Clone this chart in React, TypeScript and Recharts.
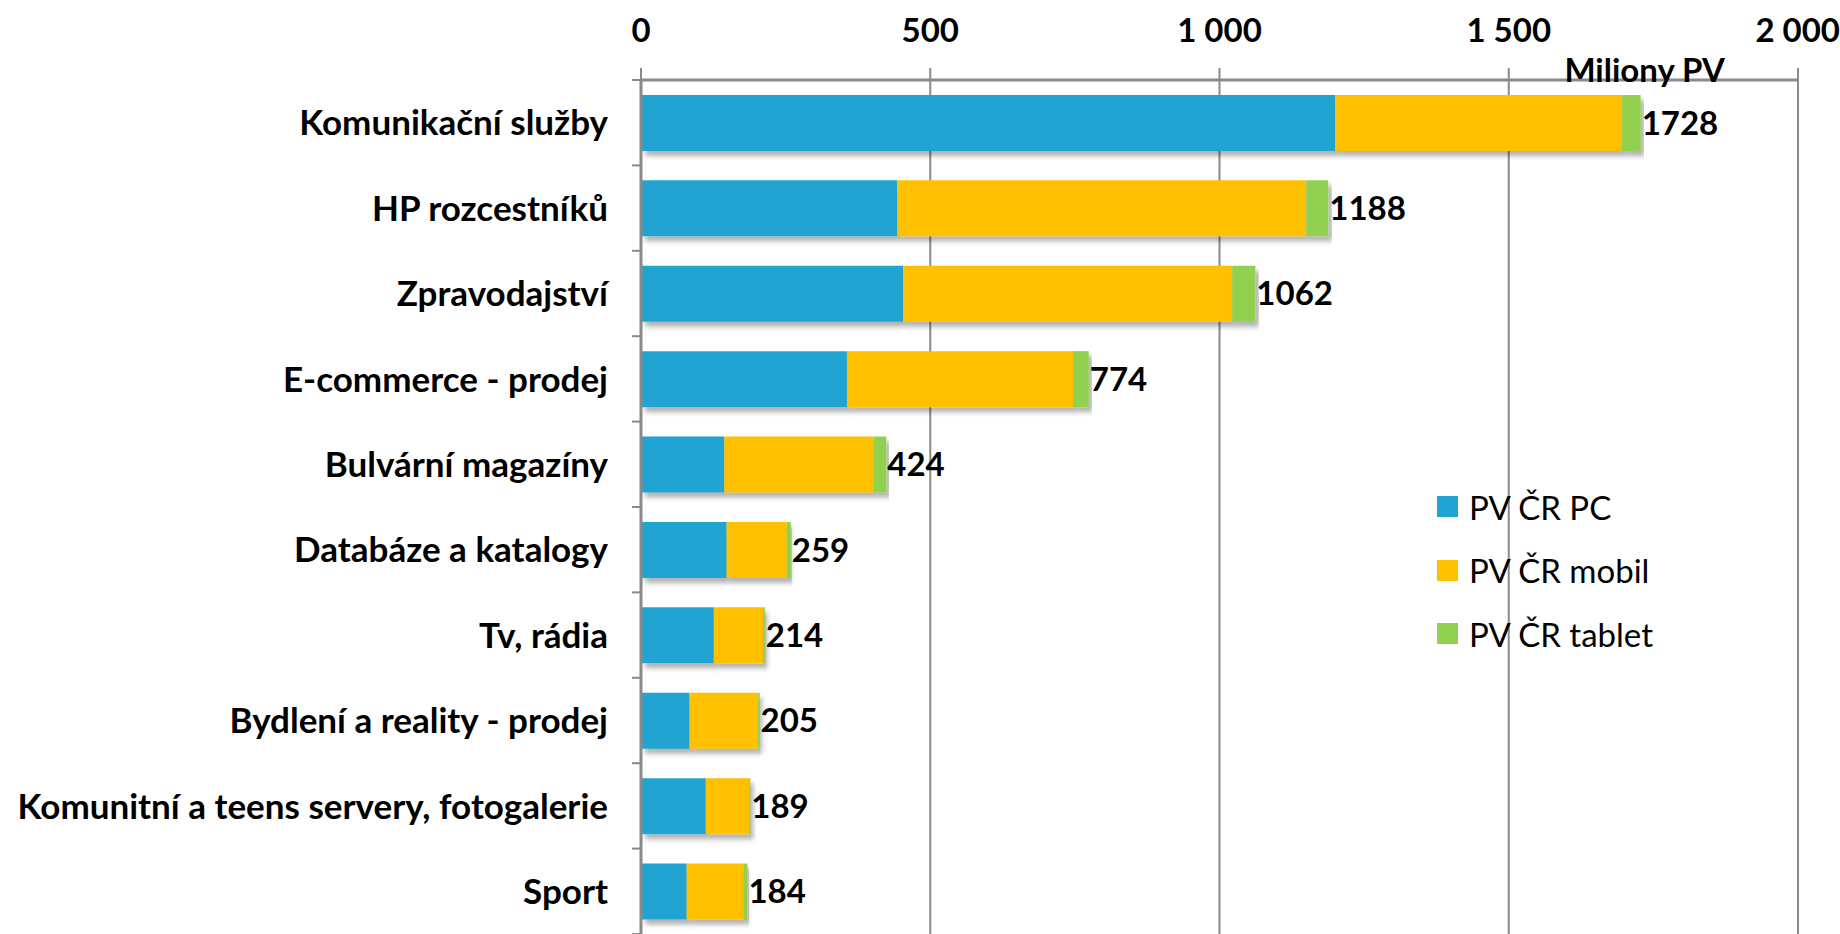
import { BarChart, Bar, XAxis, YAxis, CartesianGrid, Legend, LabelList, Label } from 'recharts';

// --- data (millions of page views) ---
const categories = [
    'Komunikační služby',
    'HP rozcestníků',
    'Zpravodajství',
    'E-commerce - prodej',
    'Bulvární magazíny',
    'Databáze a katalogy',
    'Tv, rádia',
    'Bydlení a reality - prodej',
    'Komunitní a teens servery, fotogalerie',
    'Sport',
];
const pvPc = [1200, 443, 453, 356, 144, 148, 126, 84, 112, 79];
const pvMobil = [496, 707, 569, 391, 258, 104, 85, 118, 75, 98];
const pvTablet = [32, 38, 40, 27, 22, 7, 3, 3, 2, 7];
const totals = [1728, 1188, 1062, 774, 424, 259, 214, 205, 189, 184];
const xTicks = [0, 500, 1000, 1500, 2000];

const data = categories.map((name, i) => ({
    name,
    pc: pvPc[i],
    mobil: pvMobil[i],
    tablet: pvTablet[i],
    total: totals[i],
}));

const FONT = 'Lato, Carlito, Calibri, sans-serif';
const GRID = '#8a8a8a';
const TICK_GAP = 33;

const fmt = (v: number) => String(v).replace(/\B(?=(\d{3})+(?!\d))/g, ' ');

const CategoryTick = (props: any) => {
    const { x, y, payload, index, visibleTicksCount } = props;
    const half = payload?.offset || 42.7;
    const axisX = x + TICK_GAP;
    return (
        <g>
            <line x1={axisX - 9} x2={axisX} y1={y - half} y2={y - half} stroke={GRID} strokeWidth={2} />
            {index === visibleTicksCount - 1 && (
                <line x1={axisX - 9} x2={axisX} y1={y + half} y2={y + half} stroke={GRID} strokeWidth={2} />
            )}
            <text x={x} y={y} dy="0.36em" textAnchor="end" fontFamily={FONT} fontWeight={700} fontSize={35} fill="#000">
                {payload.value}
            </text>
        </g>
    );
};

const LegendContent = (props: any) => {
    const { payload } = props;
    return (
        <div style={{ fontFamily: FONT, fontSize: 33, color: '#000' }}>
            {(payload || []).map((entry: any) => (
                <div key={entry.value} style={{ display: 'flex', alignItems: 'center', height: 63.5 }}>
                    <span style={{ width: 21, height: 21, background: entry.color, marginRight: 11, display: 'inline-block' }} />
                    <span>{entry.value}</span>
                </div>
            ))}
        </div>
    );
};

export default function App() {
    return (
        <div style={{ width: 1840, height: 934, background: '#fff' }}>
            <style>{'body{margin:0}'}</style>
            <BarChart
                width={1840}
                height={934}
                data={data}
                layout="vertical"
                margin={{ top: 0, right: 42, bottom: 0, left: 0 }}
                barCategoryGap="17.5%"
            >
                <defs>
                    <filter id="barShadow" x="-5%" y="-20%" width="120%" height="160%">
                        <feDropShadow dx="4" dy="5" stdDeviation="2.5" floodColor="#000" floodOpacity="0.3" />
                    </filter>
                </defs>
                <CartesianGrid vertical horizontal={false} stroke={GRID} strokeWidth={2} />
                <XAxis
                    type="number"
                    orientation="top"
                    domain={[0, 2000]}
                    ticks={xTicks}
                    tickFormatter={fmt}
                    height={80}
                    tickSize={12}
                    tickMargin={26}
                    axisLine={{ stroke: GRID, strokeWidth: 3 }}
                    tickLine={{ stroke: GRID, strokeWidth: 2 }}
                    tick={{ fill: '#000', fontFamily: FONT, fontWeight: 700, fontSize: 33 }}
                >
                    <Label
                        content={(p: any) => {
                            const vb = p.viewBox || {};
                            return (
                                <text
                                    x={vb.x + vb.width - 73}
                                    y={vb.y + vb.height + 2}
                                    textAnchor="end"
                                    fontFamily={FONT}
                                    fontWeight={700}
                                    fontSize={33}
                                    fill="#000"
                                >
                                    Miliony PV
                                </text>
                            );
                        }}
                    />
                </XAxis>
                <YAxis
                    type="category"
                    dataKey="name"
                    width={641}
                    axisLine={{ stroke: GRID, strokeWidth: 3 }}
                    tickLine={false}
                    tickSize={8}
                    tickMargin={TICK_GAP - 8}
                    interval={0}
                    tick={<CategoryTick />}
                />
                <Legend
                    layout="vertical"
                    align="center"
                    verticalAlign="middle"
                    wrapperStyle={{ left: 1437, top: 475, width: 'auto' }}
                    content={<LegendContent />}
                />
                <Bar dataKey="pc" name="PV ČR PC" stackId="a" fill="#22A4D3" filter="url(#barShadow)" isAnimationActive={false} />
                <Bar dataKey="mobil" name="PV ČR mobil" stackId="a" fill="#FFC000" filter="url(#barShadow)" isAnimationActive={false} />
                <Bar dataKey="tablet" name="PV ČR tablet" stackId="a" fill="#92D050" filter="url(#barShadow)" isAnimationActive={false}>
                    <LabelList
                        dataKey="total"
                        position="right"
                        offset={1}
                        fill="#000"
                        style={{ fontFamily: FONT, fontWeight: 700, fontSize: 33 }}
                    />
                </Bar>
            </BarChart>
        </div>
    );
}
